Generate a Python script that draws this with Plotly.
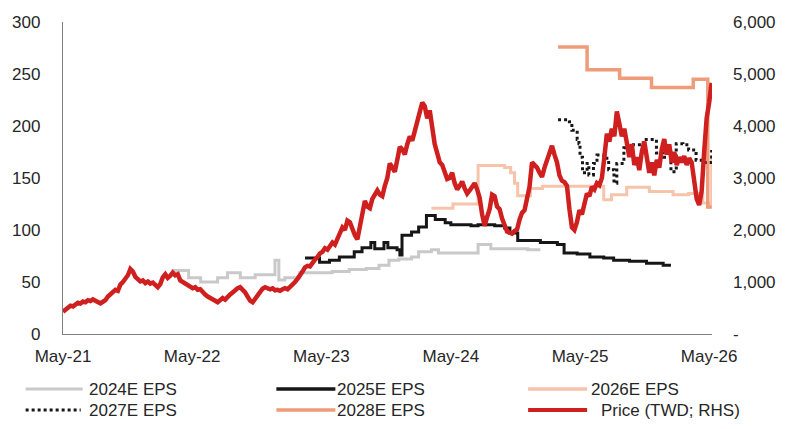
import pandas as pd
import plotly.graph_objects as go

# ---------------- data ----------------
# Share price (TWD), weekly closes May-2021 .. May-2026
price = [
    # May-21 .. May-22
    430, 470, 500, 545, 530, 575, 600, 585, 625, 610, 650, 635, 665,
    640, 610, 590, 620, 650, 720, 760, 800, 850, 830, 950, 1000, 1060,
    1130, 1250, 1200, 1100, 1050, 1010, 1030, 980, 1010, 970, 990, 930,
    900, 960, 1090, 1150, 1080, 1120, 1180, 1130, 1150, 1030, 1000, 960, 930, 900,
    # May-22 .. May-23
    880, 900, 850, 860, 800, 760, 720, 700, 660, 640, 610, 640, 690,
    660, 720, 760, 800, 850, 880, 900, 860, 800, 720, 640, 610, 680,
    760, 830, 870, 900, 880, 860, 880, 840, 850, 830, 860, 880, 860,
    900, 940, 1000, 1060, 1120, 1200, 1280, 1310, 1300, 1380, 1430, 1480, 1550,
    # May-23 .. May-24
    1580, 1650, 1620, 1700, 1760, 1720, 1850, 1950, 2050, 2000, 2180, 2150, 2000,
    1900, 1820, 2100, 2350, 2560, 2450, 2420, 2600, 2700, 2760, 2680, 2650, 2850,
    3000, 3280, 3200, 3120, 3350, 3600, 3550, 3450, 3650, 3800, 3720, 3900, 4050,
    4200, 4450, 4380, 4150, 4300, 3900, 3650, 3480, 3300, 3250, 3080, 2980, 3000,
    # May-24 .. May-25
    3100, 2900, 2780, 2850, 2930, 2800, 2700, 2760, 2850, 2900, 2780, 2620, 2300,
    2080, 2250, 2400, 2680, 2650, 2450, 2400, 2220, 2100, 1970, 1950, 1930, 1980,
    2010, 2200, 2330, 2380, 2600, 2830, 3300, 3250, 3200, 3100, 3020, 3200, 3350,
    3500, 3620, 3450, 3300, 3050, 2950, 2920, 2850, 2400, 2050, 2000,
    # May-25 .. May-26
    2150, 2380, 2300, 2500, 2700, 2650, 2830, 2780, 2900, 2860, 3000, 3400, 3850,
    3700, 3950, 3800, 4280, 4050, 3800, 3950, 3600, 3400, 3650, 3250, 3400, 3150,
    3500, 3700, 3400, 3100, 3300, 3050, 3350, 3200, 3550, 3750, 3450, 3650, 3300,
    3500, 3250, 3400, 3300, 3420, 3250, 3380, 3300, 3000, 2600, 2480, 2750, 3500,
    4150, 4450, 4830,
]
price_dates = pd.date_range(start="2021-05-01", end="2026-05-08", periods=len(price))

# Consensus EPS estimates (TWD), revision dates and values
eps24_dates = ["2022-03-04", "2022-04-21", "2022-05-25", "2022-07-12", "2022-08-09",
               "2022-09-14", "2022-10-26", "2022-12-21", "2023-01-01", "2023-01-18",
               "2023-03-01", "2023-06-01", "2023-07-19", "2023-09-05", "2023-10-11",
               "2023-11-08", "2023-12-06", "2024-01-11", "2024-01-31", "2024-03-07",
               "2024-03-27", "2024-06-10", "2024-07-17", "2024-08-22", "2024-10-28",
               "2024-12-04", "2025-01-09"]
eps24 = [61, 54, 50, 54, 59, 54, 57, 71, 52, 54,
         59, 60, 62, 63, 66, 71, 72, 74, 79, 81,
         78, 78, 86, 82, 82, 81, 81]

eps25_dates = ["2023-03-16", "2023-04-26", "2023-05-24", "2023-06-21", "2023-08-02",
               "2023-08-24", "2023-09-18", "2023-09-29", "2023-10-25", "2023-11-05",
               "2023-12-01", "2023-12-09", "2023-12-15", "2024-01-11", "2024-01-31",
               "2024-02-22", "2024-03-18", "2024-04-15", "2024-05-01", "2024-06-27",
               "2024-07-17", "2024-09-02", "2024-09-30", "2024-10-15", "2024-11-06",
               "2025-01-09", "2025-02-26", "2025-03-17", "2025-04-23", "2025-05-29",
               "2025-07-07", "2025-08-04", "2025-09-18", "2025-11-05", "2025-12-22",
               "2026-01-13"]
eps25 = [73, 69, 71, 74, 79, 83, 88, 82, 88, 83,
         81, 76, 95, 98, 103, 114, 110, 107, 105, 104,
         105, 104, 102, 97, 90, 88, 86, 78, 77, 74,
         73, 71, 70, 68, 66, 66]

eps26_dates = ["2024-03-07", "2024-05-07", "2024-07-17", "2024-09-30", "2024-10-17",
               "2024-10-28", "2024-11-06", "2024-12-12", "2025-01-15", "2025-07-07",
               "2025-07-29", "2025-09-10", "2025-11-13", "2026-01-19", "2026-03-04",
               "2026-04-13", "2026-04-30", "2026-05-08"]
eps26 = [121, 125, 162, 160, 155, 145, 133, 140, 142, 129,
         134, 141, 137, 134, 135, 126, 122, 170]

eps27_dates = ["2025-02-28", "2025-04-01", "2025-04-08", "2025-04-23", "2025-04-28",
               "2025-05-01", "2025-05-08", "2025-05-21", "2025-05-26", "2025-06-08",
               "2025-06-18", "2025-07-07", "2025-07-21", "2025-08-05", "2025-08-13",
               "2025-09-02", "2025-09-24", "2025-10-27", "2025-11-13", "2025-12-03",
               "2025-12-22", "2026-01-13", "2026-01-28", "2026-02-16", "2026-03-04",
               "2026-03-25", "2026-04-13", "2026-04-27", "2026-05-08"]
eps27 = [206, 204, 196, 187, 183, 170, 155, 164, 153, 164,
         172, 169, 158, 145, 164, 179, 182, 187, 187, 174,
         170, 156, 183, 182, 177, 167, 165, 165, 177]

eps28_dates = ["2025-02-28", "2025-05-21", "2025-08-21", "2025-11-19", "2026-03-17",
               "2026-04-27", "2026-05-08"]
eps28 = [276, 254, 246, 237, 245, 122, 122]

x_tick_dates = ["2021-05-01", "2022-05-01", "2023-05-01", "2024-05-01", "2025-05-01", "2026-05-01"]
x_tick_text = ["May-21", "May-22", "May-23", "May-24", "May-25", "May-26"]
left_ticks = [0, 50, 100, 150, 200, 250, 300]
right_ticks = [0, 1000, 2000, 3000, 4000, 5000, 6000]
right_tick_text = ["-", "1,000", "2,000", "3,000", "4,000", "5,000", "6,000"]

# ---------------- styling ----------------
C_24 = "#c9c9c9"
C_25 = "#161616"
C_26 = "#f6c3ab"
C_27 = "#161616"
C_28 = "#ee9c7a"
C_PX = "#cf1f1f"
FONT = "Liberation Sans, Arial, sans-serif"
TXT = "#262626"

W, H = 788, 429
ML, MR, MT, MB = 60, 68, 22, 95
PW, PH = W - ML - MR, H - MT - MB

fig = go.Figure()

fig.add_trace(go.Scatter(x=eps24_dates, y=eps24, mode="lines", line=dict(color=C_24, width=3, shape="hv"),
                         name="2024E EPS"))
fig.add_trace(go.Scatter(x=eps25_dates, y=eps25, mode="lines", line=dict(color=C_25, width=3, shape="hv"),
                         name="2025E EPS"))
fig.add_trace(go.Scatter(x=eps26_dates, y=eps26, mode="lines", line=dict(color=C_26, width=3, shape="hv"),
                         name="2026E EPS"))
fig.add_trace(go.Scatter(x=eps28_dates, y=eps28, mode="lines", line=dict(color=C_28, width=3.5, shape="hv"),
                         name="2028E EPS"))
fig.add_trace(go.Scatter(x=price_dates, y=price, mode="lines", line=dict(color=C_PX, width=4.5),
                         name="Price (TWD; RHS)", yaxis="y2"))
fig.add_trace(go.Scatter(x=eps27_dates, y=eps27, mode="lines",
                         line=dict(color=C_27, width=3, shape="hv", dash="dot"),
                         name="2027E EPS"))

fig.update_layout(
    width=W, height=H,
    margin=dict(l=ML, r=MR, t=MT, b=MB),
    paper_bgcolor="white", plot_bgcolor="white",
    showlegend=False,
    font=dict(family=FONT, size=17, color=TXT),
    xaxis=dict(
        type="date", range=["2021-05-01", "2026-05-09"],
        tickvals=x_tick_dates, ticktext=x_tick_text,
        showgrid=False, zeroline=False,
        showline=True, linecolor="#7f7f7f", linewidth=1.3,
        ticks="", ticklabelstandoff=6,
    ),
    yaxis=dict(
        range=[0, 300], tickvals=left_ticks,
        showgrid=False, zeroline=False,
        showline=True, linecolor="#7f7f7f", linewidth=1.3,
        ticks="", ticklabelstandoff=18,
    ),
    yaxis2=dict(
        range=[0, 6000], tickvals=right_ticks, ticktext=right_tick_text,
        overlaying="y", side="right",
        showgrid=False, zeroline=False, showline=False,
        ticks="", ticklabelstandoff=20,
    ),
)

# ---------------- legend (two rows, three columns) ----------------
def px_x(p):
    return (p - ML) / PW

def px_y(p):
    return (H - MB - p) / PH

legend_items = [
    ("2024E EPS", C_24, 3, "solid", 22, 80, 84, 389),
    ("2025E EPS", C_25, 3.5, "solid", 277, 337, 337, 389),
    ("2026E EPS", C_26, 3.5, "solid", 533, 593, 595, 389),
    ("2027E EPS", C_27, 3, "dot", 22, 78, 84, 410),
    ("2028E EPS", C_28, 3.5, "solid", 277, 337, 337, 410),
    ("Price (TWD; RHS)", C_PX, 4, "solid", 533, 593, 605, 410),
]
for label, col, lw, dash, x0, x1, xt, yy in legend_items:
    fig.add_shape(type="line", xref="paper", yref="paper",
                  x0=px_x(x0), x1=px_x(x1), y0=px_y(yy), y1=px_y(yy),
                  line=dict(color=col, width=lw, dash=dash))
    fig.add_annotation(xref="paper", yref="paper", x=px_x(xt), y=px_y(yy),
                       text=label, showarrow=False, xanchor="left", yanchor="middle",
                       font=dict(family=FONT, size=17, color=TXT))

fig.write_html("out.html")
